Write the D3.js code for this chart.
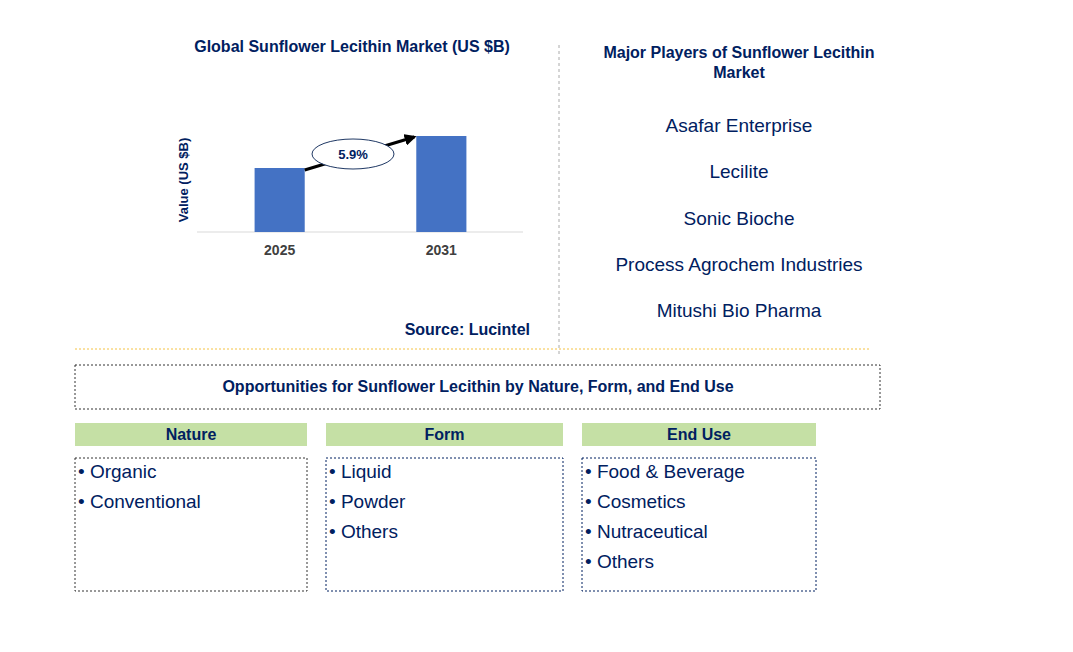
<!DOCTYPE html>
<html><head><meta charset="utf-8">
<script src="https://cdn.jsdelivr.net/npm/d3@7"></script>
<style>body{margin:0;background:#fff;font-family:Arial,"Liberation Sans",sans-serif}</style>
</head><body>
<svg id="c" width="1073" height="652"></svg>
<script>
const years = ['2025', '2031'];
const values = [0.64, 0.96];
const cagr = '5.9%';
const players = ['Asafar Enterprise', 'Lecilite', 'Sonic Bioche', 'Process Agrochem Industries', 'Mitushi Bio Pharma'];
const segHeads = ['Nature', 'Form', 'End Use'];
const segItems = [['Organic', 'Conventional'], ['Liquid', 'Powder', 'Others'], ['Food & Beverage', 'Cosmetics', 'Nutraceutical', 'Others']];

const svg = d3.select('#c');
const navy = '#002060';
svg.append('defs').append('marker').attr('id', 'ah').attr('viewBox', '0 0 10 10')
    .attr('refX', 8).attr('refY', 5).attr('markerWidth', 4).attr('markerHeight', 4).attr('orient', 'auto')
    .append('path').attr('d', 'M0,0L10,5L0,10z').attr('fill', '#000');

// title
svg.append('text').attr('x', 352).attr('y', 52).attr('text-anchor', 'middle')
    .attr('font-size', 16).attr('font-weight', 'bold').attr('fill', navy)
    .text('Global Sunflower Lecithin Market (US $B)');

const x = d3.scaleBand().domain(years).range([198, 523]).paddingInner(0.69).paddingOuter(0.35);
const y = d3.scaleLinear().domain([0, 1]).range([232, 132]);

svg.append('line').attr('x1', 197).attr('x2', 523).attr('y1', 232).attr('y2', 232).attr('stroke', '#d9d9d9');
svg.selectAll('rect.bar').data(values).enter().append('rect').attr('class', 'bar')
    .attr('x', (d, i) => x(years[i])).attr('width', x.bandwidth())
    .attr('y', d => y(d)).attr('height', d => y(0) - y(d)).attr('fill', '#4472c4');
svg.selectAll('text.yr').data(years).enter().append('text').attr('class', 'yr')
    .attr('x', d => x(d) + x.bandwidth() / 2).attr('y', 255).attr('text-anchor', 'middle')
    .attr('font-size', 14).attr('font-weight', 'bold').attr('fill', '#404040').text(d => d);
svg.append('text').attr('transform', 'translate(188,180) rotate(-90)').attr('text-anchor', 'middle')
    .attr('font-size', 13).attr('font-weight', 'bold').attr('fill', navy).text('Value (US $B)');

// CAGR arrow
const x0 = x(years[0]) + x.bandwidth(), x1 = x(years[1]);
svg.append('line').attr('x1', x0).attr('y1', y(values[0]) + 2).attr('x2', x1 - 2).attr('y2', y(values[1]) + 1)
    .attr('stroke', '#000').attr('stroke-width', 3).attr('marker-end', 'url(#ah)');
svg.append('ellipse').attr('cx', 353).attr('cy', 154).attr('rx', 41).attr('ry', 15)
    .attr('fill', '#fff').attr('stroke', '#1f3864');
svg.append('text').attr('x', 353).attr('y', 159).attr('text-anchor', 'middle')
    .attr('font-size', 13).attr('font-weight', 'bold').attr('fill', navy).text(cagr);

svg.append('text').attr('x', 530).attr('y', 335).attr('text-anchor', 'end')
    .attr('font-size', 16).attr('font-weight', 'bold').attr('fill', navy).text('Source: Lucintel');

// dividers
svg.append('line').attr('x1', 559).attr('x2', 559).attr('y1', 45).attr('y2', 355)
    .attr('stroke', '#aaa').attr('stroke-dasharray', '3,3');
svg.append('line').attr('x1', 75).attr('x2', 870).attr('y1', 349).attr('y2', 349)
    .attr('stroke', '#f5c242').attr('stroke-dasharray', '2,2');

// players
svg.append('text').attr('text-anchor', 'middle').attr('font-size', 16).attr('font-weight', 'bold').attr('fill', navy)
    .selectAll('tspan').data(['Major Players of Sunflower Lecithin', 'Market']).enter().append('tspan')
    .attr('x', 739).attr('y', (d, i) => 58 + i * 20).text(d => d);
svg.selectAll('text.pl').data(players).enter().append('text').attr('class', 'pl')
    .attr('x', 739).attr('y', (d, i) => 132 + i * 46.3).attr('text-anchor', 'middle')
    .attr('font-size', 19).attr('fill', navy).text(d => d);

// opportunities
svg.append('rect').attr('x', 75).attr('y', 365).attr('width', 805).attr('height', 44)
    .attr('fill', 'none').attr('stroke', '#333').attr('stroke-dasharray', '2,2');
svg.append('text').attr('x', 478).attr('y', 392).attr('text-anchor', 'middle')
    .attr('font-size', 16).attr('font-weight', 'bold').attr('fill', navy)
    .text('Opportunities for Sunflower Lecithin by Nature, Form, and End Use');

const cols = [[75, 232], [326, 237], [582, 234]];
segHeads.forEach((h, i) => {
    const [cx, w] = cols[i];
    svg.append('rect').attr('x', cx).attr('y', 423).attr('width', w).attr('height', 23).attr('fill', '#c5e0a5');
    svg.append('text').attr('x', cx + w / 2).attr('y', 440).attr('text-anchor', 'middle')
        .attr('font-size', 16).attr('font-weight', 'bold').attr('fill', navy).text(h);
    svg.append('rect').attr('x', cx).attr('y', 458).attr('width', w).attr('height', 133)
        .attr('fill', 'none').attr('stroke', i === 0 ? '#333' : navy).attr('stroke-dasharray', '2,2');
    svg.selectAll(null).data(segItems[i]).enter().append('text')
        .attr('x', cx + 3).attr('y', (d, j) => 478 + j * 30)
        .attr('font-size', 19).attr('fill', navy).text(d => '• ' + d);
});
</script>
</body></html>
